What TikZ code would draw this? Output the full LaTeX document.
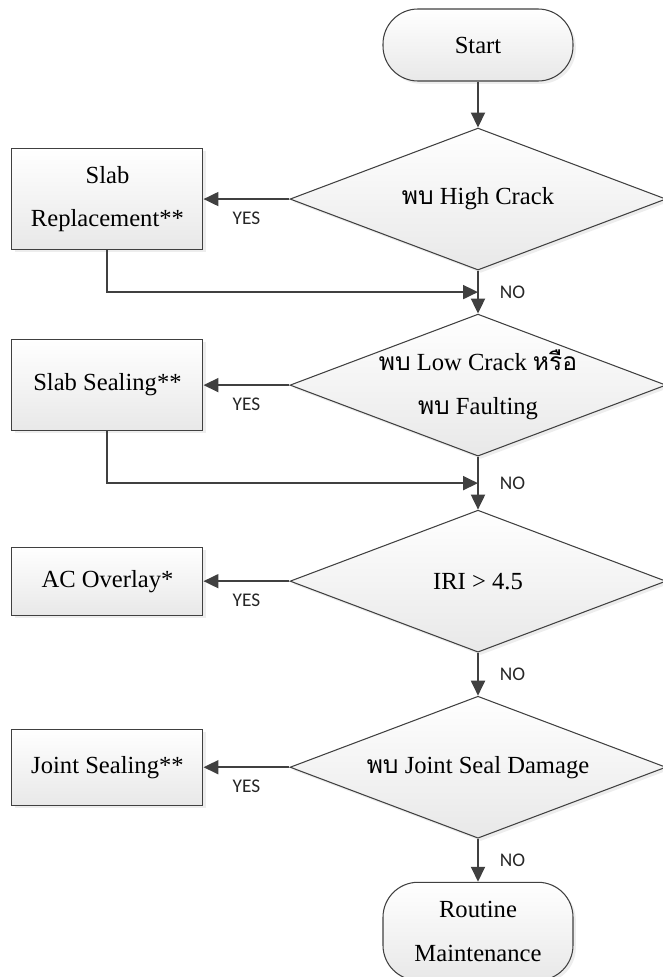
\documentclass[tikz,border=0pt]{standalone}
\usepackage{fontspec}
\setmainfont{Liberation Serif}
\newfontfamily\thaifont[Script=Thai]{Loma}
\newfontfamily\yesnofont{Carlito}
\usepackage{tikz}
\usetikzlibrary{positioning,shapes.geometric,arrows.meta,shadows,calc}
\definecolor{linecol}{HTML}{404040}

\begin{document}
\begin{tikzpicture}[
      every node/.style={align=center, font=\fontsize{14}{25}\selectfont},
      shaded/.style={draw=linecol, line width=0.6pt, top color=white, bottom color=black!9,
        drop shadow={shadow xshift=1.6pt, shadow yshift=-1.6pt, fill=black!14}},
      term/.style={shaded, rounded corners=0.7cm, minimum width=3.8cm},
      dec/.style={shaded, diamond, aspect=2.6, inner sep=0pt, minimum width=7.52cm, minimum height=2.84cm},
      proc/.style={shaded, minimum width=3.82cm},
      h/.style={minimum height=1.36cm},
      midh/.style={minimum height=1.52cm},
      tallh/.style={minimum height=1.82cm},
      doubleh/.style={minimum height=2.02cm},
      arr/.style={draw=linecol, line width=1.1pt, -{Triangle[length=3mm, width=2.8mm]}},
      yn/.style={font=\yesnofont\fontsize{11}{12}\selectfont, text=black!85}]
    \useasboundingbox (0,0) rectangle (13.24,-19.54);

    \node[term, minimum height=1.44cm] (start) at (9.56,-0.9) {Start};
    \node[dec, below=0.92cm of start] (d1) {{\thaifont พบ} High Crack};
    \node[dec, below=0.86cm of d1, label={[align=center]center:{\thaifont พบ} Low Crack {\thaifont หรือ}\\{\thaifont พบ} Faulting}] (d2) {};
    \node[dec, below=1.06cm of d2] (d3) {IRI > 4.5};
    \node[dec, below=0.86cm of d3] (d4) {{\thaifont พบ} Joint Seal Damage};
    \node[term, minimum height=1.96cm, below=0.86cm of d4] (rm) {Routine\\Maintenance};

    \node[proc, doubleh, left=1.72cm of d1] (sr) {Slab\\Replacement**};
    \node[proc, tallh, left=1.72cm of d2] (ss) {Slab Sealing**};
    \node[proc, h, left=1.72cm of d3] (ac) {AC Overlay*};
    \node[proc, midh, left=1.72cm of d4] (js) {Joint Sealing**};

    \coordinate (j1) at ($(d1.south)!0.5!(d2.north)$);
    \coordinate (j2) at ($(d2.south)!0.5!(d3.north)$);

    \draw[arr] (start.south) -- (d1.north);
    \draw[arr] (d1.south) -- (d2.north) node[midway, right=3mm, yn] {NO};
    \draw[arr] (d2.south) -- (d3.north) node[midway, right=3mm, yn] {NO};
    \draw[arr] (d3.south) -- (d4.north) node[midway, right=3mm, yn] {NO};
    \draw[arr] (d4.south) -- (rm.north) node[midway, right=3mm, yn] {NO};

    \draw[arr] (d1.west) -- (sr.east) node[midway, below=1.2mm, yn] {YES};
    \draw[arr] (d2.west) -- (ss.east) node[midway, below=1.2mm, yn] {YES};
    \draw[arr] (d3.west) -- (ac.east) node[midway, below=1.2mm, yn] {YES};
    \draw[arr] (d4.west) -- (js.east) node[midway, below=1.2mm, yn] {YES};

    \draw[arr] (sr.south) |- (j1);
    \draw[arr] (ss.south) |- (j2);
  \end{tikzpicture}
\end{document}
